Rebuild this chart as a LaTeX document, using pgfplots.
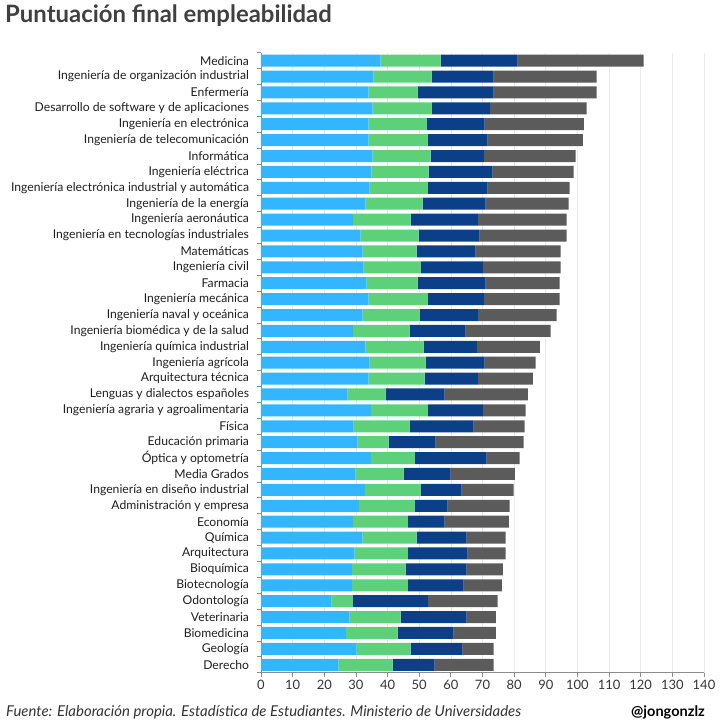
\documentclass[border=0pt]{standalone}
\usepackage{fontspec}
\setmainfont{Lato}
\usepackage{pgfplots}
\usepackage{pgfplotstable}
\pgfplotsset{compat=1.18}

\definecolor{segA}{HTML}{33B5FF}
\definecolor{segB}{HTML}{5CD17A}
\definecolor{segC}{HTML}{0B3F87}
\definecolor{segD}{HTML}{5B5B5B}
\definecolor{titlegray}{HTML}{404040}
\definecolor{labgray}{HTML}{333333}
\definecolor{gridgray}{HTML}{EBEBEB}
\definecolor{axgray}{HTML}{8C8C8C}

% y = row (0 = Medicina, top); a..d = the four stacked segments
\pgfplotstableread{
y  a     b     c     d
0  37.8  19.0  24.3  39.8
1  35.6  18.3  19.6  32.6
2  34.0  15.5  24.0  32.6
3  35.3  18.6  18.4  30.6
4  34.0  18.4  18.3  31.3
5  34.0  18.7  18.9  30.1
6  35.3  18.3  16.8  29.0
7  34.9  18.1  20.2  25.6
8  34.3  18.4  18.9  25.9
9  33.1  18.0  19.9  26.2
10 29.0  18.3  21.2  28.1
11 31.5  18.3  19.3  27.5
12 32.1  17.1  18.6  26.9
13 32.4  18.1  19.6  24.6
14 33.4  16.1  21.5  23.4
15 34.0  18.7  17.7  24.0
16 32.1  18.0  18.4  24.9
17 29.0  18.0  17.7  26.8
18 33.1  18.3  16.8  19.9
19 34.3  17.7  18.7  16.1
20 34.0  17.7  16.8  17.4
21 27.4  12.0  18.6  26.3
22 34.7  18.0  17.4  13.5
23 29.3  17.7  20.2  16.1
24 30.5   9.8  14.9  27.8
25 34.7  13.9  22.7  10.4
26 29.9  15.2  14.8  20.3
27 32.8  17.7  12.9  16.4
28 30.9  17.7  10.4  19.6
29 29.0  17.4  11.6  20.3
30 32.1  17.1  15.8  12.3
31 29.6  16.8  18.9  12.0
32 28.7  17.0  19.3  11.4
33 28.7  17.7  17.6  12.1
34 22.3   6.7  23.7  22.1
35 28.0  16.1  20.9   9.2
36 26.8  16.4  17.7  13.3
37 30.2  17.1  16.4   9.8
38 24.5  17.1  13.3  18.6
}\datatable

\begin{document}
\begin{tikzpicture}
\path (0,0) rectangle (727bp,727bp);
\node[anchor=base west, inner sep=0, text=titlegray, font=\bfseries\fontsize{24}{28}\selectfont] at (5bp,704bp) {Puntuación final empleabilidad};
\node[anchor=base west, inner sep=0, text=labgray, font=\itshape\fontsize{15}{18}\selectfont] at (6bp,11bp) {Fuente: Elaboración propia. Estadística de Estudiantes. Ministerio de Universidades};
\node[anchor=base east, inner sep=0, text=black, font=\bfseries\fontsize{14.6}{17}\selectfont] at (705bp,11bp) {@jongonzlz};

\begin{axis}[
    at={(261bp,54.3bp)}, anchor=south west,
    scale only axis,
    width=443bp, height=620bp,
    xbar stacked,
    bar width=12bp,
    xmin=0, xmax=140,
    ymin=-0.5, ymax=38.5,
    y dir=reverse,
    xtick={0,10,...,140},
    ytick={0,...,38},
    yticklabels={Medicina, Ingeniería de organización industrial, Enfermería, Desarrollo de software y de aplicaciones, Ingeniería en electrónica, Ingeniería de telecomunicación, Informática, Ingeniería eléctrica, Ingeniería electrónica industrial y automática, Ingeniería de la energía, Ingeniería aeronáutica, Ingeniería en tecnologías industriales, Matemáticas, Ingeniería civil, Farmacia, Ingeniería mecánica, Ingeniería naval y oceánica, Ingeniería biomédica y de la salud, Ingeniería química industrial, Ingeniería agrícola, Arquitectura técnica, Lenguas y dialectos españoles, Ingeniería agraria y agroalimentaria, Física, Educación primaria, Óptica y optometría, Media Grados, Ingeniería en diseño industrial, Administración y empresa, Economía, Química, Arquitectura, Bioquímica, Biotecnología, Odontología, Veterinaria, Biomedicina, Geología, Derecho},
    minor ytick={-0.5,0.5,...,38.5},
    axis x line*=bottom, axis y line*=left,
    axis line style={-, draw=axgray, line width=0.8pt},
    tick align=outside,
    major tick length=4bp, minor tick length=4bp,
    x tick style={draw=axgray, line width=0.8pt},
    major y tick style={draw=none},
    minor y tick style={draw=axgray, line width=0.8pt},
    xmajorgrids,
    major x grid style={draw=gridgray, line width=0.6pt},
    /pgf/number format/assume math mode=true,
    xticklabel style={text=labgray, font=\fontsize{13}{15}\selectfont},
    yticklabel style={text=black!88, font=\fontsize{12.2}{14}\selectfont, xshift=-4.5bp},
    every axis plot/.append style={draw=none},
]
\addplot[fill=segA] table[x=a, y=y] {\datatable};
\addplot[fill=segB] table[x=b, y=y] {\datatable};
\addplot[fill=segC] table[x=c, y=y] {\datatable};
\addplot[fill=segD] table[x=d, y=y] {\datatable};
\end{axis}
\end{tikzpicture}
\end{document}
